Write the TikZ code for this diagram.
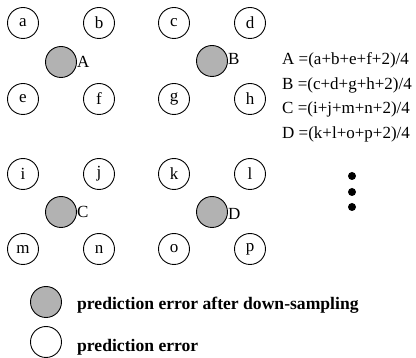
\documentclass[tikz,border=0pt]{standalone}
\usepackage{fontspec}
\setmainfont{Liberation Serif}
\begin{document}
\begin{tikzpicture}[x=1pt,y=-1pt,
  pix/.style={circle,draw=black,line width=0.9pt,minimum size=31pt,inner sep=0pt,
     font=\fontsize{17}{20}\selectfont},
  down/.style={circle,draw=black,line width=0.9pt,fill=black!30,minimum size=31pt,inner sep=0pt},
  lbl/.style={anchor=west,inner sep=0pt,font=\fontsize{17}{20}\selectfont},
  eq/.style={anchor=base west,inner sep=0pt,font=\fontsize{17}{20}\selectfont},
  leg/.style={anchor=base west,inner sep=0pt,font=\fontsize{17.6}{20}\selectfont\bfseries},
  dot/.style={circle,fill=black,minimum size=8pt,inner sep=0pt}]
\useasboundingbox (0,0) rectangle (416,358);
% pixel grid
\node[pix] (a) at (23,23) {a};
\node[pix] (b) at (99,23) {b};
\node[pix] (c) at (174,23) {c};
\node[pix] (d) at (250,23) {d};
\node[pix] (e) at (23,99) {e};
\node[pix] (f) at (99,99) {f};
\node[pix] (g) at (174,99) {g};
\node[pix] (h) at (250,99) {h};
\node[pix] (i) at (23,174) {i};
\node[pix] (j) at (99,174) {j};
\node[pix] (k) at (174,174) {k};
\node[pix] (l) at (250,174) {l};
\node[pix] (m) at (23,249) {m};
\node[pix] (n) at (99,249) {n};
\node[pix] (o) at (174,249) {o};
\node[pix] (p) at (250,249) {p};
% down-sampled
\node[down] (A) at (61,62) {};
\node[down] (B) at (212,61) {};
\node[down] (C) at (61,212) {};
\node[down] (D) at (212,212) {};
\node[lbl] (lA) at (77,62) {A};
\node[lbl] (lB) at (228,59) {B};
\node[lbl] (lC) at (77,212) {C};
\node[lbl] (lD) at (228,214) {D};
% equations
\node[eq] (eA) at (282,65) {A =(a+b+e+f+2)/4};
\node[eq] (eB) at (282,90) {B =(c+d+g+h+2)/4};
\node[eq] (eC) at (282,114) {C =(i+j+m+n+2)/4};
\node[eq] (eD) at (282,139) {D =(k+l+o+p+2)/4};
\node[dot] (d1) at (352,176) {};
\node[dot] (d2) at (352,192) {};
\node[dot] (d3) at (352,207) {};
% legend
\node[down] (lg1) at (46,302) {};
\node[pix] (lg2) at (46,342) {};
\node[leg] (t1) at (77,310) {prediction error after down-sampling};
\node[leg] (t2) at (77,352) {prediction error};
\end{tikzpicture}
\end{document}
